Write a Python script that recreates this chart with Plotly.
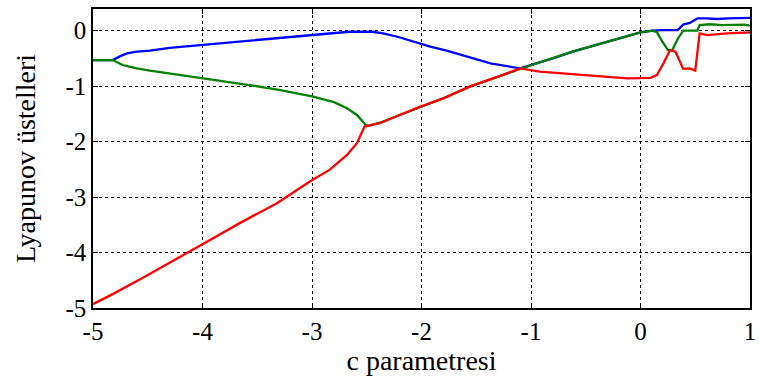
import plotly.graph_objects as go

# Lyapunov exponent spectrum versus parameter c
c_blue = [-5, -4.82, -4.75, -4.69, -4.6, -4.48, -4.3, -4.02, -3.84, -3.5, -3.2, -2.99,
          -2.84, -2.66, -2.45, -2.35, -2.22, -2.01, -1.92, -1.77, -1.56, -1.37, -1.1,
          -1.01, -0.8, -0.62, -0.4, -0.2, 0.0, 0.11, 0.2, 0.34, 0.39, 0.45, 0.52, 0.6,
          0.7, 0.8, 0.9, 1.0]
lyap_1 = [-0.53, -0.53, -0.46, -0.41, -0.38, -0.36, -0.31, -0.26, -0.23, -0.17, -0.12, -0.08,
          -0.05, -0.02, -0.02, -0.05, -0.11, -0.24, -0.29, -0.36, -0.48, -0.59, -0.68,
          -0.63, -0.5, -0.38, -0.26, -0.14, -0.03, 0.0, 0.01, 0.01, 0.11, 0.14, 0.22, 0.22,
          0.21, 0.22, 0.22, 0.23]

c_green = [-5, -4.82, -4.73, -4.6, -4.48, -4.27, -4.02, -3.8, -3.54, -3.3, -2.99, -2.8,
           -2.68, -2.59, -2.5, -2.38, -2.2, -2.01, -1.8, -1.56, -1.3, -1.1, -0.98, -0.62,
           -0.3, 0.0, 0.11, 0.15, 0.2, 0.25, 0.29, 0.34, 0.39, 0.52, 0.54, 0.63, 0.75,
           0.9, 0.95, 1.0]
lyap_2 = [-0.53, -0.53, -0.62, -0.68, -0.72, -0.78, -0.84, -0.91, -0.99, -1.07, -1.19, -1.29,
          -1.40, -1.52, -1.72, -1.66, -1.52, -1.37, -1.22, -1.01, -0.83, -0.69, -0.61, -0.38,
          -0.2, -0.03, 0.0, -0.03, -0.2, -0.35, -0.35, -0.15, 0.0, 0.0, 0.1, 0.115, 0.1,
          0.1, 0.11, 0.09]

c_red = [-5, -4.82, -4.54, -4.32, -4.13, -4.0, -3.66, -3.32, -3.02, -2.84, -2.68, -2.59,
         -2.52, -2.38, -2.2, -2.01, -1.8, -1.56, -1.3, -1.1, -0.92, -0.67, -0.37, -0.12,
         0.09, 0.15, 0.21, 0.27, 0.32, 0.39, 0.45, 0.50, 0.54, 0.61, 0.79, 1.0]
lyap_3 = [-4.93, -4.75, -4.45, -4.21, -3.99, -3.85, -3.47, -3.11, -2.72, -2.51, -2.24, -2.03,
          -1.73, -1.67, -1.52, -1.37, -1.22, -1.01, -0.83, -0.68, -0.74, -0.78, -0.83, -0.86,
          -0.85, -0.80, -0.59, -0.35, -0.38, -0.69, -0.68, -0.72, -0.05, -0.08, -0.05, -0.03]

x_ticks = [-5, -4, -3, -2, -1, 0, 1]
y_ticks = [-5, -4, -3, -2, -1, 0]

font_family = "Liberation Serif"

fig = go.Figure()
for xs, ys, col in [(c_blue, lyap_1, "#0000ff"),
                    (c_green, lyap_2, "#008000"),
                    (c_red, lyap_3, "#ff0000")]:
    fig.add_trace(go.Scatter(x=xs, y=ys, mode="lines",
                             line=dict(color=col, width=2.3), showlegend=False))

axis_common = dict(
    showline=True, linecolor="black", linewidth=1.5, mirror="allticks",
    ticks="inside", ticklen=5, tickcolor="black",
    showgrid=True, gridcolor="black", gridwidth=1, griddash="dot",
    zeroline=False,
    tickfont=dict(family=font_family, size=25, color="black"),
)

fig.update_xaxes(range=[-5, 1], tickvals=x_ticks, ticktext=[str(v) for v in x_ticks],
                 title=dict(text="c parametresi", standoff=0,
                            font=dict(family=font_family, size=28, color="black")),
                 **axis_common)
fig.update_yaxes(range=[-5, 0.39], tickvals=y_ticks, ticktext=[str(v) for v in y_ticks],
                 title=dict(text="Lyapunov üstelleri", standoff=22,
                            font=dict(family=font_family, size=28, color="black")),
                 **axis_common)

fig.update_layout(
    width=759, height=379,
    margin=dict(l=93, r=9, t=9, b=71, autoexpand=False),
    paper_bgcolor="white", plot_bgcolor="white",
    font=dict(family=font_family),
)

fig.write_html("out.html")
